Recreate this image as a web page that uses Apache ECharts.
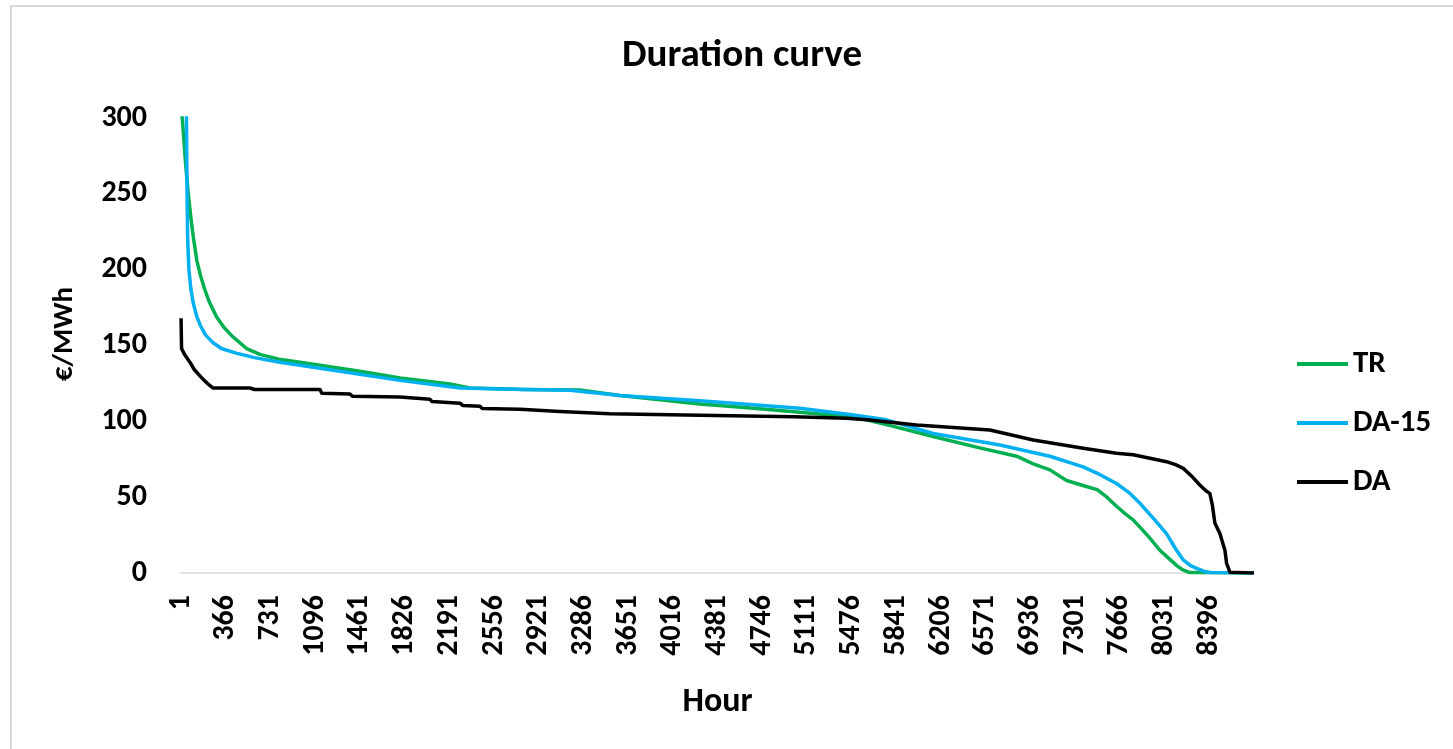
<!DOCTYPE html>
<html><head><meta charset="utf-8">
<script src="https://cdn.jsdelivr.net/npm/echarts@6/dist/echarts.min.js"></script>
<style>
html,body{margin:0;padding:0;background:#fff;overflow:hidden;}
#frame{position:absolute;left:10px;top:5px;width:1460px;height:760px;border-left:2px solid #d9d9d9;border-top:2px solid #d9d9d9;}
#chart{position:absolute;left:0;top:0;width:1453px;height:749px;}
</style></head><body>
<div id="frame"></div><div id="chart"></div>
<script>
// Tick labels on the hour axis
const xTickLabels = [1,366,731,1096,1461,1826,2191,2556,2921,3286,3651,4016,4381,4746,5111,5476,5841,6206,6571,6936,7301,7666,8031,8396];
const seriesNames = ['TR','DA-15','DA'];

// TR (sorted prices, €/MWh)
const trHours  = [1,20,40,60,80,100,130,160,190,230,290,350,420,536,650,800,971,1461,1788,2196,2360,2800,3257,3584,4237,4700,5053,5461,5597,5800,6141,6495,6822,6958,7094,7230,7350,7480,7560,7638,7710,7774,7900,7992,8060,8128,8180,8237,8760];
const trValues = [310,290,268,250,235,222,206,196,188,179,169,162,156,148,144,141,139,133,128.6,124.6,122,121,120.6,117,111.5,108.5,106,103,101,97,90,83,77,72,68,61,58,55,50,44,39,35,24,15,10,5,2,0.3,0];

// DA-15
const da15Hours  = [1,45,50,55,65,80,100,130,160,200,260,330,450,600,808,1216,1788,2278,2800,3176,3584,4237,5053,5461,5761,6141,6686,7094,7366,7500,7638,7740,7829,7950,8046,8120,8183,8240,8292,8350,8400,8760];
const da15Values = [500,300,250,220,200,188,178,169,163,157,152,148,145,142,139,134,127,122,121,120.5,117,113.6,108.6,104.5,101,92,84.4,77,70,65,59,53,46,35,26,16,8.6,5,3,1.2,0.3,0];

// DA
const daHours  = [1,5,30,73,110,155,190,230,260,563,600,1135,1150,1380,1400,1788,1800,2033,2050,2278,2300,2441,2460,2767,2780,3094,3110,3500,4237,5000,5434,5600,6006,6604,6958,7366,7638,7774,8046,8120,8183,8250,8318,8370,8400,8420,8441,8482,8523,8537,8564,8760];
const daValues = [168,148,144,139,134,130,127,124,122,122,121,121,118.5,118,116.5,116,115,114.5,113,112,110.5,110,108.5,108,107,106.5,105.5,105,104,103,102,101,97.6,94.3,87.7,82.2,79,78,73.4,71.5,69,64,58,54,52.5,45,33,26,15,6.4,0.5,0];

const colors = ['#00B050','#00B0F0','#000000'];
const FONT = 'Carlito, Lato, "Open Sans", sans-serif';

function zip(h, v){ return h.map((x,i)=>[x, v[i]]); }

const chart = echarts.init(document.getElementById('chart'), null, {renderer:'canvas'});
chart.setOption({
  animation:false,
  backgroundColor:'transparent',
  title:{
    text:'Duration curve', left:737, top:32, textAlign:'center',
    textStyle:{fontFamily:FONT, fontWeight:'bold', fontSize:39, color:'#000'}
  },
  grid:{left:181, right:199, top:118, bottom:176},
  legend:{
    orient:'vertical', left:1292, top:341, itemWidth:51, itemHeight:4, itemGap:23,
    icon:'rect',
    data:seriesNames,
    textStyle:{fontFamily:FONT, fontWeight:'bold', fontSize:31, color:'#000', lineHeight:36}
  },
  xAxis:{
    type:'value', min:0.5, max:8760.5,
    name:'Hour', nameLocation:'middle', nameGap:112,
    nameTextStyle:{fontFamily:FONT, fontWeight:'bold', fontSize:34, color:'#000'},
    axisLine:{show:true, lineStyle:{color:'#d9d9d9', width:1.5}},
    axisTick:{show:false},
    splitLine:{show:false},
    axisLabel:{customValues:xTickLabels, rotate:90, margin:22,
      formatter:function(v){ return String(Math.round(v)); },
      fontFamily:FONT, fontWeight:'bold', fontSize:30, color:'#000'}
  },
  yAxis:{
    type:'value', min:0, max:300, interval:50,
    axisLine:{show:false}, axisTick:{show:false}, splitLine:{show:false},
    axisLabel:{margin:34, fontFamily:FONT, fontWeight:'bold', fontSize:30, color:'#000'}
  },
  graphic:[{
    type:'text', x:65, y:334, rotation:Math.PI/2,
    style:{text:'€/MWh', fontFamily:FONT, fontWeight:'bold', fontSize:29, fill:'#000', align:'center', verticalAlign:'middle'}
  }],
  series:[
    {name:seriesNames[0], type:'line', data:zip(trHours,trValues), symbol:'none', clip:true, color:colors[0], lineStyle:{width:3.5, color:colors[0], join:'round'}},
    {name:seriesNames[1], type:'line', data:zip(da15Hours,da15Values), symbol:'none', clip:true, color:colors[1], lineStyle:{width:3.5, color:colors[1], join:'round'}},
    {name:seriesNames[2], type:'line', data:zip(daHours,daValues), symbol:'none', clip:true, color:colors[2], lineStyle:{width:3.5, color:colors[2], join:'round'}}
  ]
});
</script>
</body></html>
